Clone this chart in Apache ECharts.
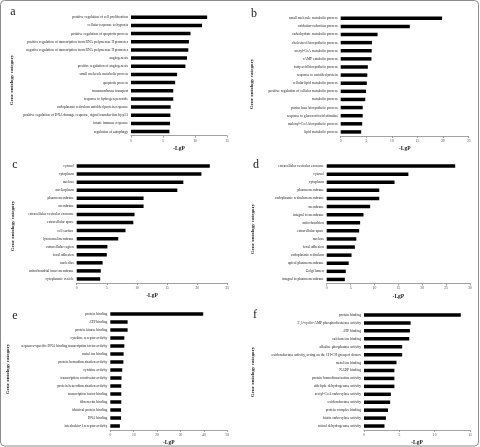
<!DOCTYPE html>
<html>
<head>
<meta charset="utf-8">
<script src="https://cdn.jsdelivr.net/npm/echarts@6/dist/echarts.min.js"></script>
<style>html,body{margin:0;padding:0;background:#fff;}#c{width:480px;height:447px;}</style>
</head>
<body>
<div id="c"></div>
<script>
const aCats = ['positive regulation of cell proliferation','cellular response to hypoxia','positive regulation of apoptotic process','positive regulation of transcription from RNA polymerase II promoter','negative regulation of transcription from RNA polymerase II promoter','angiogenesis','positive regulation of angiogenesis','small molecule metabolic process','apoptotic process','transmembrane transport','response to hydrogen peroxide','endoplasmic reticulum unfolded protein response','positive regulation of DNA damage response, signal transduction by p53','innate immune response','regulation of autophagy'];
const aVals = [11.9,11.1,9.3,9.05,8.95,8.75,8.5,7.2,6.9,6.6,6.6,6.2,6.15,6.1,6.0];
const bCats = ['small molecule metabolic process','oxidation-reduction process','carbohydrate metabolic process','cholesterol biosynthetic process','acetyl-CoA metabolic process','cAMP catabolic process','fatty acid biosynthetic process','response to unfolded protein','cellular lipid metabolic process','positive regulation of cellular metabolic process','metabolic process','purine base biosynthetic process','response to glucocorticoid stimulus','malonyl-CoA biosynthetic process','lipid metabolic process'];
const bVals = [19.8,13.5,7.2,6.1,6.05,6.0,5.3,5.2,5.1,4.95,4.8,4.3,4.3,4.2,4.0];
const cCats = ['cytosol','cytoplasm','nucleus','nucleoplasm','plasma membrane','membrane','extracellular vesicular exosome','extracellular space','cell surface','lysosomal membrane','extracellular region','focal adhesion','nucleolus','mitochondrial inner membrane','cytoplasmic vesicle'];
const cVals = [22.1,20.7,17.7,16.7,11.1,11.1,9.6,9.4,8.1,6.9,5.1,5.0,4.3,4.0,3.9];
const dCats = ['extracellular vesicular exosome','cytosol','cytoplasm','plasma membrane','endoplasmic reticulum membrane','membrane','integral to membrane','mitochondrion','extracellular space','nucleus','focal adhesion','endoplasmic reticulum','apical plasma membrane','Golgi lumen','integral to plasma membrane'];
const dVals = [26.9,17.1,14.2,11.0,11.0,9.1,7.7,7.0,6.8,6.2,5.9,5.2,4.6,4.0,3.8];
const eCats = ['protein binding','ATP binding','protein kinase binding','cytokine receptor activity','sequence-specific DNA binding transcription factor activity','metal ion binding','protein homodimerization activity','cytokine activity','transcription coactivator activity','protein heterodimerization activity','transcription factor binding','fibronectin binding','identical protein binding','DNA binding','interleukin-1 receptor activity'];
const eVals = [39.7,7.4,7.4,6.0,6.0,5.7,5.6,5.1,4.8,4.7,4.7,4.7,4.6,4.6,4.1];
const fCats = ['protein binding',"3',5'-cyclic-AMP phosphodiesterase activity",'ATP binding','calcium ion binding','alkaline phosphatase activity','oxidoreductase activity, acting on the CH-CH group of donors','metal ion binding','NADP binding','protein homodimerization activity','aldehyde dehydrogenase activity','acetyl-CoA carboxylase activity','oxidoreductase activity','protein complex binding','biotin carboxylase activity','retinal dehydrogenase activity'];
const fVals = [13.7,6.6,6.5,6.4,5.4,5.4,4.6,4.3,4.3,4.3,3.8,3.7,3.4,3.1,2.9];
const xTitle = '-LgP';
const yTitle = 'Gene ontology category';
const letters = ['a','b','c','d','e','f'];

const FONT = '"Liberation Serif", "DejaVu Serif", serif';
const panels = [
  {cats:aCats, vals:aVals, grid:{left:131, top:13.2, width:96, height:122.5}, max:15, interval:5, lx:13, ly:12, tx:12, ty:80},
  {cats:bCats, vals:bVals, grid:{left:340.7, top:14.2, width:128, height:121.8}, max:25, interval:5, lx:254, ly:14, tx:252, ty:84},
  {cats:cCats, vals:cVals, grid:{left:76.7, top:162, width:150.6, height:121}, max:25, interval:5, lx:15, ly:165, tx:13, ty:226},
  {cats:dCats, vals:dVals, grid:{left:326.7, top:162, width:143.3, height:121.5}, max:30, interval:5, lx:256, ly:165, tx:253, ty:229},
  {cats:eCats, vals:eVals, grid:{left:110.3, top:310, width:117, height:122.5}, max:50, interval:10, lx:15, ly:316, tx:8, ty:369},
  {cats:fCats, vals:fVals, grid:{left:364, top:311, width:106, height:121.5}, max:15, interval:5, lx:255, ly:315, tx:253, ty:372}
];

const grid = [], xAxis = [], yAxis = [], series = [], graphic = [];
panels.forEach((p, i) => {
  grid.push(Object.assign({containLabel:false}, p.grid));
  xAxis.push({
    gridIndex:i, type:'value', min:0, max:p.max, interval:p.interval,
    splitLine:{show:false},
    axisLine:{show:true, lineStyle:{color:'#8a8a8a', width:0.8}},
    axisTick:{show:true, length:2, lineStyle:{color:'#8a8a8a', width:0.8}},
    axisLabel:{fontSize:3.6, margin:3, color:'#444', fontFamily:FONT},
    name:xTitle, nameLocation:'middle', nameGap:10,
    nameTextStyle:{fontSize:5.5, fontWeight:'bold', color:'#222', fontFamily:FONT}
  });
  yAxis.push({
    gridIndex:i, type:'category', data:p.cats, inverse:true,
    axisLine:{show:false}, axisTick:{show:false},
    axisLabel:{fontSize:3.6, margin:3, color:'#222', fontFamily:FONT, interval:0}
  });
  series.push({
    type:'bar', xAxisIndex:i, yAxisIndex:i, data:p.vals, barWidth:3.5,
    itemStyle:{color:'#000'}, silent:true, animation:false
  });
  graphic.push({type:'text', x:p.lx, y:p.ly, style:{text:letters[i], font:'12px ' + FONT, fill:'#222', textAlign:'center', textVerticalAlign:'middle'}});
  graphic.push({type:'text', x:p.tx, y:p.ty, rotation:Math.PI/2, style:{text:yTitle, font:'bold 5px ' + FONT, fill:'#222', textAlign:'center', textVerticalAlign:'middle'}});
});
graphic.push({type:'rect', shape:{x:0.5, y:0.5, width:478, height:445.5, r:4}, style:{fill:'none', stroke:'#8c8c8c', lineWidth:1}, silent:true});

const chart = echarts.init(document.getElementById('c'), null, {renderer:'canvas'});
chart.setOption({animation:false, backgroundColor:'#fff', grid, xAxis, yAxis, series, graphic});
</script>
</body>
</html>
